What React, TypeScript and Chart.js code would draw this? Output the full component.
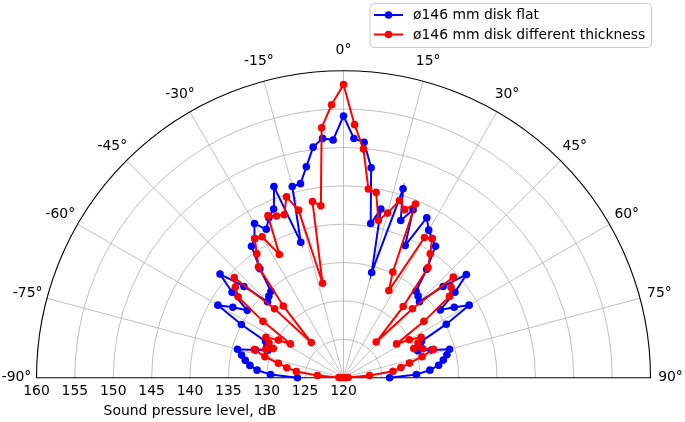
import React, { useEffect, useRef } from "react";
import { Chart, registerables } from "chart.js";

Chart.register(...registerables);

// Angles (degrees) of the measurement points
const ANGLES = [
  -90, -87.5, -85, -82.5, -80, -77.5, -75, -72.5, -70, -67.5, -65, -62.5, -60,
  -57.5, -55, -52.5, -50, -47.5, -45, -42.5, -40, -37.5, -35, -32.5, -30, -27.5,
  -25, -22.5, -20, -17.5, -15, -12.5, -10, -7.5, -5, -2.5, 0, 2.5, 5, 7.5, 10,
  12.5, 15, 17.5, 20, 22.5, 25, 27.5, 30, 32.5, 35, 37.5, 40, 42.5, 45, 47.5, 50,
  52.5, 55, 57.5, 60, 62.5, 65, 67.5, 70, 72.5, 75, 77.5, 80, 82.5, 85, 87.5, 90,
];

// Sound pressure level (dB), series "flat"
const FLAT_DB = [
  126.0, 129.5, 131.3, 132.3, 133.0, 133.6, 134.3, 132.0, 130.5, 130.8, 131.2,
  135.0, 138.9, 137.1, 135.3, 138.3, 141.0, 137.6, 134.0, 134.4, 134.7, 137.9,
  140.9, 141.5, 143.2, 141.8, 143.0, 143.8, 146.5, 138.5, 145.8, 145.9, 147.9,
  150.3, 151.3, 151.0, 154.1, 151.2, 150.8, 147.6, 140.4, 142.5, 134.2, 145.8,
  141.8, 143.7, 139.0, 143.5, 142.2, 141.5, 140.9, 137.8, 134.7, 134.4, 134.0,
  137.6, 140.9, 138.3, 135.4, 137.1, 138.9, 135.1, 131.2, 130.8, 130.3, 132.0,
  134.3, 133.8, 133.2, 132.5, 131.3, 129.5, 126.0,
];

// Sound pressure level (dB), series "different thickness"
const THICK_DB = [
  120.2, 120.6, 123.4, 126.2, 127.5, 128.7, 130.6, 132.2, 130.8, 129.9, 130.7,
  131.4, 129.8, 128.2, 132.8, 137.3, 138.4, 139.3, 132.7, 126.2, 132.2, 138.2,
  139.7, 141.5, 141.2, 138.1, 143.3, 142.8, 142.6, 144.7, 142.6, 132.6, 143.3,
  142.6, 152.7, 155.6, 158.2, 153.0, 149.9, 144.8, 144.5, 141.0, 142.2, 144.2,
  143.3, 144.5, 135.2, 132.8, 141.1, 141.5, 139.7, 138.1, 132.1, 126.3, 132.7,
  139.4, 138.3, 137.4, 132.8, 128.2, 129.9, 131.4, 130.7, 129.9, 131.0, 132.3,
  130.6, 128.8, 127.6, 126.5, 123.4, 120.6, 120.2,
];

const SERIES_LABELS = ["ø146 mm disk flat", "ø146 mm disk different thickness"];
const SERIES_COLORS = ["#0000ff", "#ff0000"];

// Radial axis
const R_MIN = 120;
const R_MAX = 160;
const R_TICKS = [160, 155, 150, 145, 140, 135, 130, 125, 120];
const R_RINGS = [125, 130, 135, 140, 145, 150, 155];
const THETA_TICKS = [-90, -75, -60, -45, -30, -15, 0, 15, 30, 45, 60, 75, 90];
const X_TITLE = "Sound pressure level, dB";

const FONT = '"DejaVu Sans", sans-serif';
const FS = 13.9;

function toXY(angles: number[], db: number[]) {
  return angles.map((a, i) => {
    const t = (a * Math.PI) / 180;
    const r = db[i] - R_MIN;
    return { x: r * Math.sin(t), y: r * Math.cos(t) };
  });
}

const polarPlugin = {
  id: "polarDecor",
  beforeDatasetsDraw(chart: any) {
    const { ctx, scales } = chart;
    const xs = scales.x;
    const ys = scales.y;
    const cx = xs.getPixelForValue(0);
    const cy = ys.getPixelForValue(0);
    const unit = xs.getPixelForValue(1) - cx;
    const R = (R_MAX - R_MIN) * unit;
    ctx.save();
    ctx.strokeStyle = "#b0b0b0";
    ctx.lineWidth = 0.8;
    for (const v of R_RINGS) {
      ctx.beginPath();
      ctx.arc(cx, cy, (v - R_MIN) * unit, Math.PI, 2 * Math.PI);
      ctx.stroke();
    }
    for (const a of THETA_TICKS) {
      if (Math.abs(a) === 90) continue;
      const t = (a * Math.PI) / 180;
      ctx.beginPath();
      ctx.moveTo(cx, cy);
      ctx.lineTo(cx + R * Math.sin(t), cy - R * Math.cos(t));
      ctx.stroke();
    }
    ctx.strokeStyle = "#000000";
    ctx.lineWidth = 1.1;
    ctx.beginPath();
    ctx.arc(cx, cy, R, Math.PI, 2 * Math.PI);
    ctx.closePath();
    ctx.stroke();

    // angle labels
    ctx.fillStyle = "#000000";
    ctx.font = `${FS}px ${FONT}`;
    ctx.textAlign = "center";
    ctx.textBaseline = "middle";
    for (const a of THETA_TICKS) {
      const t = (a * Math.PI) / 180;
      const rr = R + 20;
      ctx.fillText(`${a}°`, cx + rr * Math.sin(t), cy - rr * Math.cos(t));
    }
    // radial tick labels
    for (const v of R_TICKS) {
      const px = cx - (v - R_MIN) * unit;
      ctx.fillText(String(v), px, cy + 14);
    }
    const left = cx - R;
    ctx.fillText(X_TITLE, (left + cx) / 2, cy + 34);
    ctx.restore();
  },
  afterDraw(chart: any) {
    const { ctx } = chart;
    ctx.save();
    const bx = 370, by = 3.5, bw = 281.5, bh = 44, rad = 4;
    ctx.beginPath();
    ctx.moveTo(bx + rad, by);
    ctx.lineTo(bx + bw - rad, by);
    ctx.quadraticCurveTo(bx + bw, by, bx + bw, by + rad);
    ctx.lineTo(bx + bw, by + bh - rad);
    ctx.quadraticCurveTo(bx + bw, by + bh, bx + bw - rad, by + bh);
    ctx.lineTo(bx + rad, by + bh);
    ctx.quadraticCurveTo(bx, by + bh, bx, by + bh - rad);
    ctx.lineTo(bx, by + rad);
    ctx.quadraticCurveTo(bx, by, bx + rad, by);
    ctx.closePath();
    ctx.fillStyle = "rgba(255,255,255,0.8)";
    ctx.fill();
    ctx.strokeStyle = "#cccccc";
    ctx.lineWidth = 1;
    ctx.stroke();
    ctx.font = `${FS}px ${FONT}`;
    ctx.textAlign = "left";
    ctx.textBaseline = "middle";
    SERIES_LABELS.forEach((lab, i) => {
      const yy = 15 + i * 19.5;
      ctx.strokeStyle = SERIES_COLORS[i];
      ctx.lineWidth = 2;
      ctx.beginPath();
      ctx.moveTo(374, yy);
      ctx.lineTo(403, yy);
      ctx.stroke();
      ctx.fillStyle = SERIES_COLORS[i];
      ctx.beginPath();
      ctx.arc(388.5, yy, 3.8, 0, Math.PI * 2);
      ctx.fill();
      ctx.fillStyle = "#000000";
      ctx.fillText(lab, 413, yy + 0.5);
    });
    ctx.restore();
  },
};

export default function App() {
  const ref = useRef<HTMLCanvasElement | null>(null);
  useEffect(() => {
    if (!ref.current) return;
    const mk = (i: number, db: number[], order: number) => ({
      label: SERIES_LABELS[i],
      data: toXY(ANGLES, db),
      showLine: true,
      borderColor: SERIES_COLORS[i],
      backgroundColor: SERIES_COLORS[i],
      borderWidth: 2,
      pointRadius: 3.8,
      pointBorderWidth: 0,
      pointBackgroundColor: SERIES_COLORS[i],
      clip: false,
      order,
    });
    const chart = new Chart(ref.current, {
      type: "scatter",
      data: { datasets: [mk(0, FLAT_DB, 1), mk(1, THICK_DB, 0)] as any },
      options: {
        animation: false,
        responsive: false,
        maintainAspectRatio: false,
        layout: { padding: { left: 36.5, right: 34.5, top: 70.7, bottom: 44.3 } },
        plugins: { legend: { display: false }, tooltip: { enabled: false } },
        scales: {
          x: { type: "linear", min: -(R_MAX - R_MIN), max: R_MAX - R_MIN, display: false },
          y: { type: "linear", min: 0, max: R_MAX - R_MIN, display: false },
        },
      },
      plugins: [polarPlugin],
    });
    return () => chart.destroy();
  }, []);
  return (
    <div style={{ position: "fixed", left: 0, top: 0, width: 685, height: 422, background: "#fff" }}>
      <canvas ref={ref} width={685} height={422} style={{ width: 685, height: 422 }} />
    </div>
  );
}
